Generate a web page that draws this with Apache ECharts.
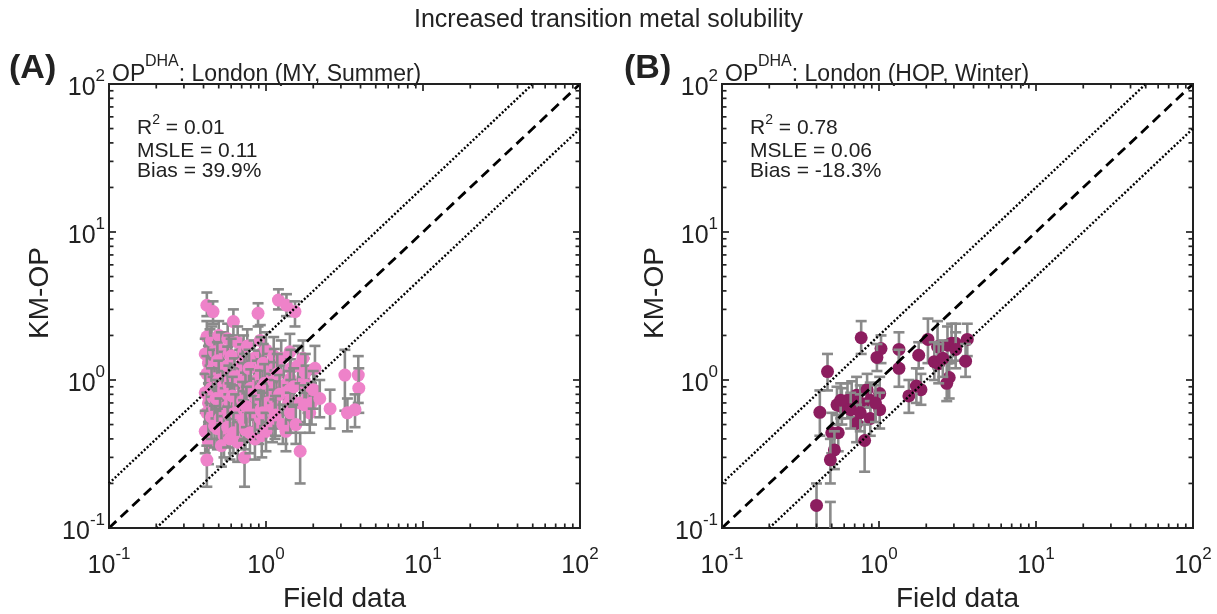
<!DOCTYPE html>
<html><head><meta charset="utf-8">
<script src="https://cdn.jsdelivr.net/npm/echarts@6/dist/echarts.min.js"></script>
<style>html,body{margin:0;padding:0;background:#fff}#c{width:1217px;height:614px}</style>
</head><body><div id="c"></div><script>
// ---------------- data ----------------
const mainTitle = 'Increased transition metal solubility';
const panelLetters = ['(A)', '(B)'];
const panelTitleBase = 'OP';
const panelTitleSup = 'DHA';
const panelSites = [': London (MY, Summer)', ': London (HOP, Winter)'];
const xAxisName = 'Field data';
const yAxisName = 'KM-OP';
const axisMin = 0.1, axisMax = 100;
const majorTicks = [0.1, 1, 10, 100];
const tickExponents = ['-1', '0', '1', '2'];
const minorTicks = [0.2,0.3,0.4,0.5,0.6,0.7,0.8,0.9,2,3,4,5,6,7,8,9,20,30,40,50,60,70,80,90];
const statsA = ['0.01', '0.11', '39.9%'];
const statsB = ['0.78', '0.06', '-18.3%'];
// reference lines: 1:1, 2:1, 1:2
const lineOneToOne = [[0.1, 0.1], [100, 100]];
const lineTwice = [[0.1, 0.2], [50, 100]];
const lineHalf = [[0.2, 0.1], [100, 50]];
// points: [field, model, lower, upper]
const pointsA = [
 [0.42,3.2,2.7,3.9],[0.46,2.9,2.4,3.4],[0.42,1.96,1.5,2.5],[0.44,1.7,1.3,2.2],[0.41,1.5,1.1,1.9],
 [0.43,1.3,0.95,1.7],[0.42,1.1,0.8,1.45],[0.44,0.95,0.7,1.25],[0.41,0.82,0.6,1.1],[0.43,0.7,0.5,0.95],
 [0.42,0.6,0.42,0.82],[0.44,0.52,0.37,0.7],[0.41,0.45,0.32,0.62],[0.43,0.38,0.27,0.52],[0.42,0.288,0.19,0.36],
 [0.45,1.85,1.4,2.3],[0.47,1.55,1.15,2.0],[0.46,1.2,0.9,1.6],[0.47,1.02,0.75,1.38],[0.45,0.88,0.64,1.2],
 [0.46,0.76,0.55,1.05],[0.47,0.64,0.46,0.88],[0.45,0.56,0.4,0.77],[0.47,0.49,0.35,0.67],
 [0.50,2.0,1.6,2.5],[0.52,1.6,1.2,2.1],[0.49,1.35,1.0,1.8],[0.54,1.15,0.85,1.55],[0.50,1.0,0.72,1.35],
 [0.53,0.85,0.62,1.15],[0.48,0.75,0.55,1.0],[0.55,0.65,0.47,0.88],[0.51,0.55,0.4,0.75],[0.49,0.47,0.34,0.64],
 [0.54,0.42,0.3,0.57],[0.52,0.36,0.26,0.5],
 [0.57,1.9,1.5,2.4],[0.58,1.5,1.1,2.0],[0.57,1.25,0.92,1.68],[0.59,1.08,0.8,1.45],[0.58,0.92,0.68,1.25],
 [0.57,0.8,0.58,1.08],[0.59,0.7,0.51,0.95],[0.58,0.58,0.42,0.8],[0.57,0.48,0.35,0.66],[0.59,0.4,0.29,0.55],
 [0.62,2.48,2.0,3.0],[0.66,1.8,1.4,2.3],[0.60,1.45,1.1,1.9],[0.68,1.2,0.9,1.6],[0.63,1.05,0.78,1.4],
 [0.70,0.9,0.66,1.2],[0.61,0.78,0.57,1.05],[0.67,0.68,0.5,0.92],[0.64,0.6,0.44,0.8],[0.69,0.5,0.37,0.68],
 [0.62,0.44,0.32,0.6],[0.66,0.38,0.28,0.52],[0.73,0.30,0.19,0.4],
 [0.72,1.55,1.18,2.0],[0.71,1.3,0.97,1.74],[0.73,1.12,0.83,1.5],[0.72,0.97,0.72,1.3],[0.74,0.83,0.61,1.12],
 [0.71,0.72,0.53,0.97],[0.73,0.62,0.45,0.84],[0.72,0.54,0.39,0.73],[0.74,0.46,0.34,0.63],
 [0.89,2.82,2.3,3.3],[0.76,1.7,1.3,2.2],[0.84,1.4,1.05,1.85],[0.78,1.2,0.9,1.6],[0.88,1.0,0.74,1.35],
 [0.80,0.88,0.65,1.18],[0.86,0.76,0.56,1.02],[0.75,0.66,0.48,0.9],[0.83,0.58,0.42,0.78],[0.90,0.5,0.37,0.68],
 [0.79,0.44,0.32,0.6],[0.85,0.4,0.29,0.54],
 [0.92,1.85,1.45,2.35],[0.93,1.5,1.12,1.95],[0.92,1.18,0.88,1.58],[0.93,1.03,0.76,1.38],[0.92,0.86,0.63,1.16],
 [0.94,0.73,0.54,0.98],[0.93,0.63,0.46,0.85],[0.92,0.55,0.4,0.74],[0.94,0.42,0.3,0.57],
 [1.0,1.6,1.2,2.1],[0.96,1.3,0.98,1.75],[1.05,1.1,0.82,1.5],[0.98,0.95,0.7,1.28],[1.08,0.82,0.6,1.1],
 [1.02,0.7,0.52,0.95],[0.95,0.6,0.44,0.82],[1.1,0.52,0.38,0.7],[1.0,0.45,0.33,0.6],
 [1.12,1.45,1.08,1.95],[1.13,1.2,0.9,1.62],[1.12,0.98,0.72,1.32],[1.14,0.86,0.63,1.16],[1.13,0.74,0.54,1.0],
 [1.12,0.64,0.47,0.86],[1.14,0.55,0.4,0.74],
 [1.2,3.47,3.0,4.1],[1.35,3.2,2.7,3.8],[1.25,1.4,1.05,1.85],[1.18,1.1,0.82,1.5],[1.3,0.92,0.68,1.25],
 [1.22,0.8,0.58,1.08],[1.38,0.68,0.5,0.92],[1.15,0.58,0.42,0.78],[1.28,0.5,0.37,0.68],[1.34,0.45,0.33,0.6],
 [1.42,1.55,1.15,2.05],[1.44,1.2,0.9,1.6],[1.43,1.02,0.76,1.38],[1.42,0.86,0.63,1.15],[1.44,0.74,0.54,1.0],
 [1.43,0.6,0.44,0.82],
 [1.53,2.9,2.3,3.4],[1.6,1.25,0.95,1.7],[1.75,1.0,0.74,1.4],[1.5,0.9,0.66,1.2],[1.85,0.8,0.6,1.1],
 [1.65,0.7,0.52,0.95],[1.9,0.6,0.44,0.82],[1.55,0.5,0.37,0.68],[1.65,0.33,0.2,0.44],
 [1.72,1.4,1.05,1.85],[1.78,1.12,0.82,1.5],[1.8,0.92,0.68,1.25],[1.76,0.68,0.5,0.92],[2.05,1.2,0.9,1.7],
 [1.95,0.7,0.5,0.95],
 [2.0,0.86,0.64,1.15],[2.56,0.64,0.47,0.86],[2.2,0.75,0.56,1.0],
 [3.18,1.08,0.62,1.6],[3.87,1.08,0.7,1.45],[3.9,0.88,0.6,1.2],[3.69,0.63,0.48,0.8],[3.3,0.6,0.45,0.75]
];
const pointsB = [
 [0.49,0.08,0.05,0.15],[0.40,0.142,0.08,0.2],
 [0.77,1.93,1.5,2.5],[0.47,1.14,0.85,1.5],[0.42,0.605,0.42,0.85],[1.03,1.63,1.3,2.0],[0.97,1.42,1.15,1.75],
 [1.34,1.61,1.25,2.1],[1.34,1.2,0.9,1.6],[1.79,1.47,1.2,1.8],[2.05,1.88,1.3,2.6],[2.36,1.68,1.2,2.5],
 [2.25,1.33,1.0,1.8],[2.73,1.72,1.3,2.3],[2.9,1.77,1.3,2.4],[3.08,1.77,1.35,2.4],[3.65,1.88,1.45,2.4],
 [3.56,1.34,1.05,1.75],[2.8,1.04,0.75,1.45],[2.7,0.95,0.72,1.3],[1.55,0.78,0.6,1.0],[1.85,0.86,0.68,1.1],
 [1.73,0.91,0.7,1.2],[2.4,1.29,0.95,1.75],[0.50,0.44,0.32,0.6],[0.55,0.44,0.33,0.58],[0.52,0.337,0.25,0.45],
 [0.49,0.289,0.2,0.4],[0.54,0.68,0.5,0.9],[0.58,0.66,0.5,0.88],[0.63,0.73,0.55,0.95],
 [0.67,0.75,0.56,0.98],[0.72,0.79,0.6,1.05],[0.76,0.70,0.52,0.92],[0.84,0.86,0.65,1.1],[0.88,0.73,0.55,0.96],
 [1.01,0.81,0.6,1.05],[1.01,0.63,0.47,0.82],[0.88,0.55,0.42,0.72],[0.72,0.51,0.38,0.68],[0.81,0.39,0.24,0.5],
 [0.66,0.63,0.47,0.82],[0.57,0.73,0.55,0.95],[0.95,0.70,0.52,0.92],[0.76,0.60,0.45,0.8],[3.08,1.61,1.2,2.1],
 [2.55,1.4,1.05,1.85]
];
// ---------------- styling ----------------
const FONT = 'Liberation Sans, Arial, Helvetica, sans-serif';
const INK = '#222';
const colorA = '#EE82C9';
const colorB = '#8C1D5F';
const errColor = '#8a8a8a';
const grids = [
  {left: 109, top: 84, width: 471, height: 444},
  {left: 722, top: 84, width: 471, height: 444}
];

function expLabel(v) {
  let i = majorTicks.findIndex(t => Math.abs(t - v) / t < 1e-6);
  if (i < 0) return '';
  return '{b|10}{s|' + tickExponents[i] + '}';
}
const labelRich = {
  b: {fontSize: 25, fontFamily: FONT, color: INK, lineHeight: 33, verticalAlign: 'bottom', width: 28},
  s: {fontSize: 17, fontFamily: FONT, color: INK, lineHeight: 17, verticalAlign: 'top'}
};

function pointRenderer(color) {
  return function (params, api) {
    const x = api.value(0), y = api.value(1), lo = api.value(2), hi = api.value(3);
    const cs = params.coordSys;
    const top = cs.y, bottom = cs.y + cs.height;
    const pc = api.coord([x, y]), pl = api.coord([x, lo]), ph = api.coord([x, hi]);
    const cl = v => Math.min(bottom, Math.max(top, v));
    const st = {stroke: errColor, lineWidth: 2.6};
    const ch = [];
    ch.push({type: 'line', shape: {x1: pc[0], y1: cl(ph[1]), x2: pc[0], y2: cl(pl[1])}, style: st});
    const cw = 5.5;
    if (ph[1] >= top && ph[1] <= bottom) ch.push({type: 'line', shape: {x1: pc[0]-cw, y1: ph[1], x2: pc[0]+cw, y2: ph[1]}, style: st});
    if (pl[1] >= top && pl[1] <= bottom) ch.push({type: 'line', shape: {x1: pc[0]-cw, y1: pl[1], x2: pc[0]+cw, y2: pl[1]}, style: st});
    if (pc[1] >= top && pc[1] <= bottom) ch.push({type: 'circle', shape: {cx: pc[0], cy: pc[1], r: 6.5}, style: {fill: color}});
    return {type: 'group', children: ch};
  };
}

const tickData = majorTicks.map(v => [v, v, 1]).concat(minorTicks.map(v => [v, v, 0]));
function tickRenderer(params, api) {
  const v = api.value(0), major = api.value(2) === 1;
  const len = major ? 7 : 4.5;
  const st = {stroke: INK, lineWidth: 1.7};
  const b = api.coord([v, axisMin]), t = api.coord([v, axisMax]);
  const l = api.coord([axisMin, v]), r = api.coord([axisMax, v]);
  return {type: 'group', children: [
    {type: 'line', shape: {x1: b[0], y1: b[1], x2: b[0], y2: b[1] - len}, style: st},
    {type: 'line', shape: {x1: t[0], y1: t[1], x2: t[0], y2: t[1] + len}, style: st},
    {type: 'line', shape: {x1: l[0], y1: l[1], x2: l[0] + len, y2: l[1]}, style: st},
    {type: 'line', shape: {x1: r[0], y1: r[1], x2: r[0] - len, y2: r[1]}, style: st}
  ]};
}

const xAxes = [], yAxes = [], series = [], graphics = [];
[0, 1].forEach(k => {
  xAxes.push({
    gridIndex: k, type: 'log', logBase: 10, min: axisMin, max: axisMax, splitNumber: 3,
    name: xAxisName, nameLocation: 'middle', nameGap: 57,
    nameTextStyle: {fontSize: 28, fontFamily: FONT, color: INK},
    axisLine: {show: true, lineStyle: {color: INK, width: 2}},
    axisTick: {show: false}, splitLine: {show: false}, minorTick: {show: false},
    axisLabel: {formatter: expLabel, rich: labelRich, margin: 18, showMinLabel: true, showMaxLabel: true}
  });
  yAxes.push({
    gridIndex: k, type: 'log', logBase: 10, min: axisMin, max: axisMax, splitNumber: 3,
    axisLine: {show: true, lineStyle: {color: INK, width: 2}},
    axisTick: {show: false}, splitLine: {show: false}, minorTick: {show: false},
    axisLabel: {formatter: expLabel, rich: labelRich, margin: 4, showMinLabel: true, showMaxLabel: true}
  });
  const pts = k === 0 ? pointsA : pointsB;
  series.push({
    type: 'custom', xAxisIndex: k, yAxisIndex: k, renderItem: pointRenderer(k === 0 ? colorA : colorB),
    data: pts, encode: {x: 0, y: 1}, z: 3, silent: true
  });
  series.push({type: 'line', xAxisIndex: k, yAxisIndex: k, data: lineOneToOne, symbol: 'none', z: 5, silent: true,
    lineStyle: {color: '#000', width: 2.8, type: [10, 6]}});
  series.push({type: 'line', xAxisIndex: k, yAxisIndex: k, data: lineTwice, symbol: 'none', z: 5, silent: true,
    lineStyle: {color: '#000', width: 2.4, type: [2, 2]}});
  series.push({type: 'line', xAxisIndex: k, yAxisIndex: k, data: lineHalf, symbol: 'none', z: 5, silent: true,
    lineStyle: {color: '#000', width: 2.4, type: [2, 2]}});
  series.push({type: 'custom', xAxisIndex: k, yAxisIndex: k, renderItem: tickRenderer, data: tickData,
    encode: {x: 0, y: 1}, z: 6, silent: true});

  const gx = grids[k].left;
  const stats = k === 0 ? statsA : statsB;
  graphics.push({type: 'text', x: k === 0 ? 40 : 655, y: 293, rotation: Math.PI / 2, style: {
    text: yAxisName, fontSize: 28, fontFamily: FONT, fill: INK, align: 'center', verticalAlign: 'middle'}});
  graphics.push({type: 'text', left: gx + 28, top: 113, style: {
    text: '{n|R}{s|2}{n| = ' + stats[0] + '}', rich: {
      n: {fontSize: 21, fontFamily: FONT, fill: INK, lineHeight: 26, verticalAlign: 'bottom'},
      s: {fontSize: 14, fontFamily: FONT, fill: INK, lineHeight: 13, verticalAlign: 'top'}}}});
  graphics.push({type: 'text', left: gx + 28, top: 141, style: {text: 'MSLE = ' + stats[1], fontSize: 21, fontFamily: FONT, fill: INK}});
  graphics.push({type: 'text', left: gx + 28, top: 161, style: {text: 'Bias = ' + stats[2], fontSize: 21, fontFamily: FONT, fill: INK}});
  graphics.push({type: 'text', left: k === 0 ? 9 : 624, top: 52, style: {text: panelLetters[k], fontSize: 34, fontWeight: 'bold', fontFamily: FONT, fill: INK}});
  graphics.push({type: 'text', left: gx + 3, top: 54, style: {
    text: '{p|' + panelTitleBase + '}{s|' + panelTitleSup + '}{n|' + panelSites[k] + '}', rich: {
      p: {fontSize: 23, fontFamily: FONT, fill: INK, lineHeight: 32, verticalAlign: 'bottom', width: 33},
      n: {fontSize: 23, fontFamily: FONT, fill: INK, lineHeight: 32, verticalAlign: 'bottom'},
      s: {fontSize: 16, fontFamily: FONT, fill: INK, lineHeight: 16, verticalAlign: 'top'}}}});
});
graphics.push({type: 'text', left: 'center', top: 8, style: {text: mainTitle, fontSize: 25, fontFamily: FONT, fill: INK}});

const chart = echarts.init(document.getElementById('c'), null, {renderer: 'canvas'});
chart.setOption({
  animation: false,
  backgroundColor: '#fff',
  grid: grids.map(g => Object.assign({show: true, borderColor: INK, borderWidth: 2, backgroundColor: 'transparent',
    containLabel: false, outerBoundsMode: 'none'}, g)),
  xAxis: xAxes, yAxis: yAxes, series: series, graphic: graphics
});
</script></body></html>
